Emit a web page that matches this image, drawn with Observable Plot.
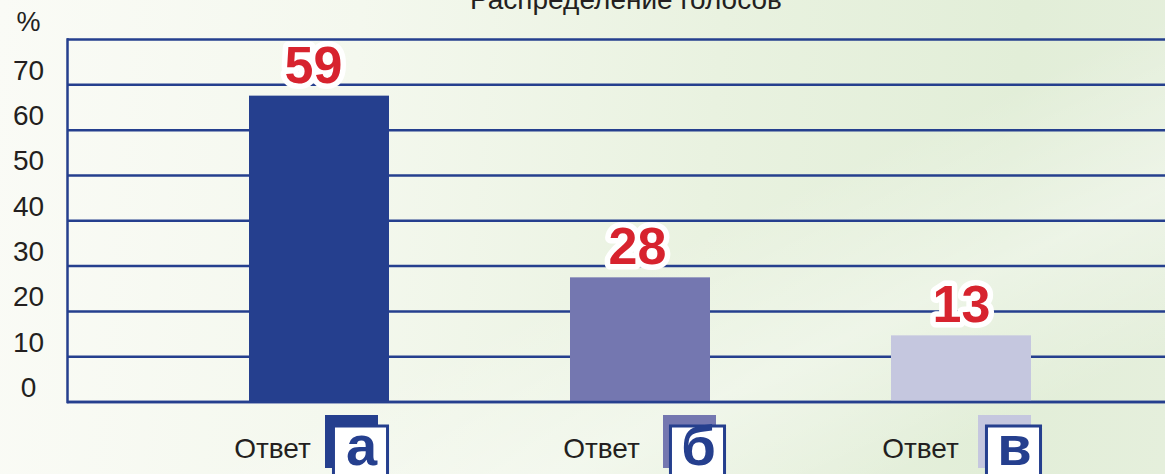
<!DOCTYPE html>
<html>
<head>
<meta charset="utf-8">
<script src="https://cdn.jsdelivr.net/npm/d3@7"></script>
<script src="https://cdn.jsdelivr.net/npm/@observablehq/plot@0.6"></script>
<style>
  html, body { margin: 0; padding: 0; width: 1165px; height: 474px; overflow: hidden; }
  body {
    background:
      linear-gradient(155deg, rgba(255,255,255,0) 55%, rgba(255,255,255,0.35) 72%, rgba(255,255,255,0) 88%),
      linear-gradient(95deg, #fafbf6 0%, #f4f8ee 30%, #e9f2e0 60%, #e2eed8 85%, #e5efdc 100%);
  }
  #chart svg { display: block; overflow: visible; }
</style>
</head>
<body>
<div id="chart"></div>
<script>
// ---- data ----
const title = "Распределение голосов";
const unitLabel = "%";
const answerWord = "Ответ";
const answers = ["а", "б", "в"];
const barValues = [67.5, 27.4, 14.6];
const valueLabels = ["59", "28", "13"];
const yTicks = [0, 10, 20, 30, 40, 50, 60, 70];

// ---- styles / layout (not data) ----
const barColors = ["#253f8e", "#7477b0", "#c5c7df"];
const blue = "#253f8e";
const answerDx = [-47, -39, -41];
const backDx = [32, 49, 43];
const frontDx = [41, 57, 52];
const letterDx = [42, 58, 53];
const valueDx = [-6, -3, 0];

const data = answers.map((a, i) => ({answer: a, value: barValues[i], label: valueLabels[i]}));

const perCategory = data.flatMap((d, i) => [
  Plot.text([d], {x: "answer", frameAnchor: "bottom", text: () => answerWord, dx: answerDx[i], dy: 55.5,
    lineAnchor: "bottom", fontSize: 28, fill: "#231f20"}),
  Plot.dot([d], {x: "answer", frameAnchor: "bottom", symbol: "square", r: 29.9, fill: "answer",
    dx: backDx[i], dy: 39.5}),
  Plot.dot([d], {x: "answer", frameAnchor: "bottom", symbol: "square", r: 30.5, fill: "white",
    stroke: blue, strokeWidth: 3, dx: frontDx[i], dy: 51}),
  Plot.text([d], {x: "answer", frameAnchor: "bottom", text: "answer", dx: letterDx[i], dy: 63,
    lineAnchor: "bottom", fontSize: 56, fontWeight: "bold", fill: blue}),
  Plot.text([d], {x: "answer", y: "value", text: "label", dx: valueDx[i], dy: -30, lineAnchor: "middle",
    fontSize: 52, fontWeight: "bold", fill: "#d7232e", stroke: "white", strokeWidth: 11,
    strokeLinejoin: "round"})
]);

const chart = Plot.plot({
  width: 1165,
  height: 474,
  marginLeft: 67,
  marginRight: 0,
  marginTop: 39,
  marginBottom: 72.5,
  style: {background: "transparent", fontFamily: "'Liberation Sans', Arial, sans-serif", color: "#231f20"},
  x: {domain: answers, range: [67, 1165], paddingInner: 0.564, paddingOuter: 0.492, align: 0.576, axis: null},
  y: {domain: [0, 80], axis: null},
  color: {domain: answers, range: barColors},
  marks: [
    Plot.ruleY([...yTicks, 80], {stroke: blue, strokeWidth: 2.5}),
    Plot.barY(data, {x: "answer", y: "value", fill: "answer"}),
    Plot.ruleY([0], {stroke: blue, strokeWidth: 2.5}),
    Plot.frame({anchor: "left", stroke: blue, strokeWidth: 2.5}),
    Plot.text(yTicks, {y: d => d, frameAnchor: "left", dx: -39, dy: -14, textAnchor: "middle",
      lineAnchor: "middle", fontSize: 28, fill: "#231f20"}),
    Plot.text([unitLabel], {frameAnchor: "top-left", dx: -39, dy: -17, textAnchor: "middle",
      lineAnchor: "middle", fontSize: 27, fill: "#231f20"}),
    Plot.text([title], {frameAnchor: "top", dx: 9.5, dy: -31, lineAnchor: "bottom", fontSize: 28, fill: "#231f20"}),
    ...perCategory
  ]
});
document.getElementById("chart").appendChild(chart);
</script>
</body>
</html>
